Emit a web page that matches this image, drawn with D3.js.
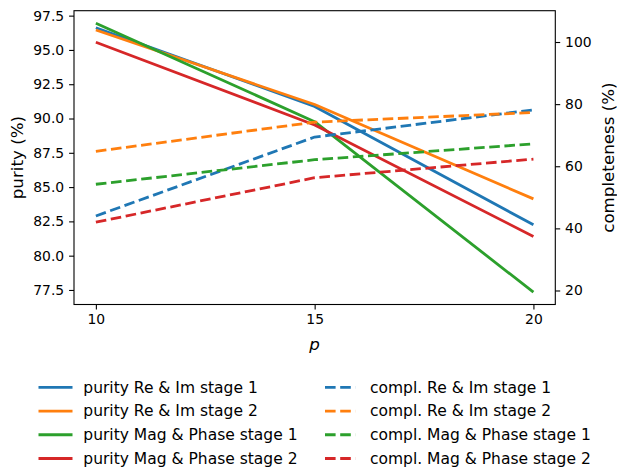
<!DOCTYPE html>
<html>
<head>
<meta charset="utf-8">
<script src="https://cdn.jsdelivr.net/npm/d3@7"></script>
<style>
  html, body { margin: 0; padding: 0; background: #fff; }
  svg { display: block; font-family: "DejaVu Sans", sans-serif; }
</style>
</head>
<body>
<svg id="chart" width="617" height="469"></svg>
<script>
// number of features p
const pValues = [10, 15, 20];

// purity (%) — left axis
const purityReImStage1 = [96.62, 90.88, 82.25];
const purityReImStage2 = [96.45, 91.02, 84.14];
const purityMagPhaseStage1 = [96.95, 89.77, 77.34];
const purityMagPhaseStage2 = [95.56, 89.53, 81.40];

// completeness (%) — right axis
const complReImStage1 = [44.0, 69.4, 78.15];
const complReImStage2 = [64.8, 74.2, 77.3];
const complMagPhaseStage1 = [54.2, 62.1, 67.2];
const complMagPhaseStage2 = [42.0, 56.3, 62.3];

const purityTicks = [77.5, 80.0, 82.5, 85.0, 87.5, 90.0, 92.5, 95.0, 97.5];
const complTicks = [20, 40, 60, 80, 100];
const xTicks = [10, 15, 20];

const purityLabels = ["purity Re & Im stage 1", "purity Re & Im stage 2",
                      "purity Mag & Phase stage 1", "purity Mag & Phase stage 2"];
const complLabels = ["compl. Re & Im stage 1", "compl. Re & Im stage 2",
                     "compl. Mag & Phase stage 1", "compl. Mag & Phase stage 2"];
const colors = ["#1f77b4", "#ff7f0e", "#2ca02c", "#d62728"];

const puritySeries = [purityReImStage1, purityReImStage2, purityMagPhaseStage1, purityMagPhaseStage2];
const complSeries = [complReImStage1, complReImStage2, complMagPhaseStage1, complMagPhaseStage2];

const svg = d3.select("#chart");
svg.append("rect").attr("width", 617).attr("height", 469).attr("fill", "#fff");

const plotLeft = 74, plotRight = 555.3, plotTop = 10.7, plotBottom = 304.5;
const tickFont = 13.9, labelFont = 16.7, legendFont = 15.5;
const lw = 2.8;
const dash = "10.6,4.6";

const x = d3.scaleLinear().domain([9.5, 20.5]).range([plotLeft, plotRight]);
const yL = d3.scaleLinear().domain([76.44, 97.86]).range([plotBottom, plotTop]);
const yR = d3.scaleLinear().domain([15.49, 110.08]).range([plotBottom, plotTop]);

// purity lines (solid)
const lineL = d3.line().x((d, i) => x(pValues[i])).y(d => yL(d));
puritySeries.forEach((s, k) => {
  svg.append("path").datum(s).attr("d", lineL)
    .attr("fill", "none").attr("stroke", colors[k]).attr("stroke-width", lw)
    .attr("stroke-linecap", "butt").attr("stroke-linejoin", "round");
});

// completeness lines (dashed)
const lineR = d3.line().x((d, i) => x(pValues[i])).y(d => yR(d));
complSeries.forEach((s, k) => {
  svg.append("path").datum(s).attr("d", lineR)
    .attr("fill", "none").attr("stroke", colors[k]).attr("stroke-width", lw)
    .attr("stroke-dasharray", dash).attr("stroke-linejoin", "round");
});

// axes
function styleAxis(g) {
  g.selectAll("path").remove();
  g.selectAll("line").attr("stroke", "#000").attr("stroke-width", 1.1);
  g.selectAll("text").attr("font-size", tickFont).attr("fill", "#000")
    .attr("font-family", "DejaVu Sans, sans-serif");
}

svg.append("g").attr("transform", `translate(0,${plotBottom})`)
  .call(d3.axisBottom(x).tickValues(xTicks).tickSize(4.9).tickPadding(4.9).tickFormat(d3.format("d")))
  .call(styleAxis);

svg.append("g").attr("transform", `translate(${plotLeft},0)`)
  .call(d3.axisLeft(yL).tickValues(purityTicks).tickSize(4.9).tickPadding(4.9).tickFormat(d3.format(".1f")))
  .call(styleAxis);

svg.append("g").attr("transform", `translate(${plotRight},0)`)
  .call(d3.axisRight(yR).tickValues(complTicks).tickSize(4.9).tickPadding(4.9).tickFormat(d3.format("d")))
  .call(styleAxis);

// frame
svg.append("rect").attr("x", plotLeft).attr("y", plotTop)
  .attr("width", plotRight - plotLeft).attr("height", plotBottom - plotTop)
  .attr("fill", "none").attr("stroke", "#000").attr("stroke-width", 1.1);

// axis titles
svg.append("text").attr("x", (plotLeft + plotRight) / 2).attr("y", 344).attr("dy", "0.35em")
  .attr("text-anchor", "middle").attr("font-size", labelFont).attr("font-style", "italic")
  .text("p");

svg.append("text")
  .attr("transform", `translate(17,${(plotTop + plotBottom) / 2}) rotate(-90)`)
  .attr("dy", "0.35em").attr("text-anchor", "middle").attr("font-size", labelFont)
  .text("purity (%)");

svg.append("text")
  .attr("transform", `translate(608,${(plotTop + plotBottom) / 2}) rotate(-90)`)
  .attr("dy", "0.35em").attr("text-anchor", "middle").attr("font-size", labelFont)
  .text("completeness (%)");

// legend: two columns, purity (solid) on the left, completeness (dashed) on the right
const rowY = d3.scaleLinear().domain([0, 3]).range([387.3, 458.5]);
const legend = svg.append("g");
purityLabels.forEach((t, k) => {
  const yy = rowY(k);
  legend.append("line").attr("x1", 38.5).attr("x2", 72.5).attr("y1", yy).attr("y2", yy)
    .attr("stroke", colors[k]).attr("stroke-width", lw);
  legend.append("text").attr("x", 83.3).attr("y", yy).attr("dy", "0.35em")
    .attr("font-size", legendFont).text(t);
});
complLabels.forEach((t, k) => {
  const yy = rowY(k);
  legend.append("line").attr("x1", 325).attr("x2", 355.5).attr("y1", yy).attr("y2", yy)
    .attr("stroke", colors[k]).attr("stroke-width", lw).attr("stroke-dasharray", dash);
  legend.append("text").attr("x", 370).attr("y", yy).attr("dy", "0.35em")
    .attr("font-size", legendFont).text(t);
});
</script>
</body>
</html>
